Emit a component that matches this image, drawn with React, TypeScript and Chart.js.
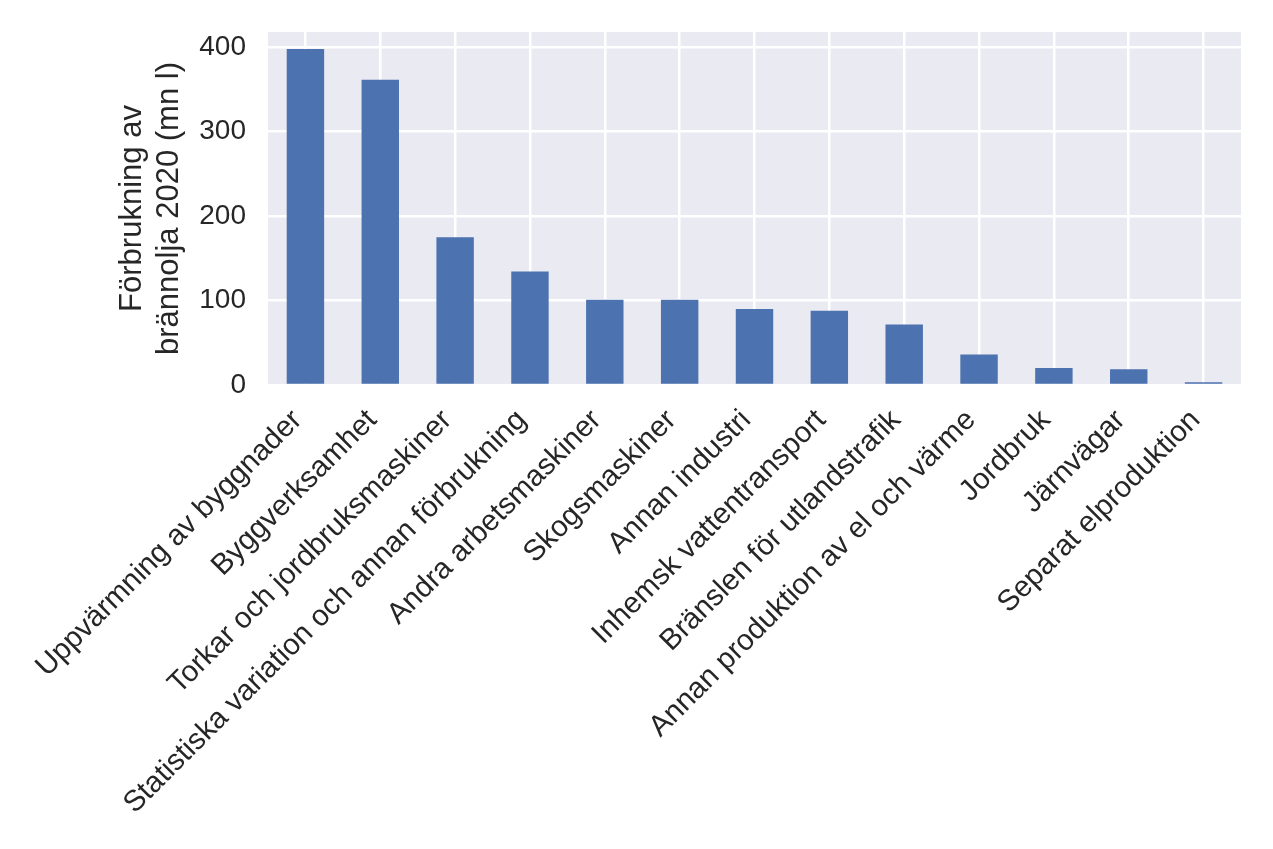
import React, { useEffect, useRef } from "react";
import { Chart, registerables } from "chart.js";

Chart.register(...registerables);

const categories = [
  "Uppvärmning av byggnader",
  "Byggverksamhet",
  "Torkar och jordbruksmaskiner",
  "Statistiska variation och annan förbrukning",
  "Andra arbetsmaskiner",
  "Skogsmaskiner",
  "Annan industri",
  "Inhemsk vattentransport",
  "Bränslen för utlandstrafik",
  "Annan produktion av el och värme",
  "Jordbruk",
  "Järnvägar",
  "Separat elproduktion",
];

const values = [398, 361.5, 175, 134.5, 101, 101, 90, 88, 71.5, 36, 20, 18.7, 3.2];

const yTitle = ["Förbrukning av", "brännolja 2020 (mn l)"];

const FONT = "'Liberation Sans', Arial, Helvetica, sans-serif";
const TEXT = "#262626";

const bgPlugin = {
  id: "bgPlugin",
  beforeDraw(chart: any) {
    const { ctx, chartArea } = chart;
    if (!chartArea) return;
    ctx.save();
    ctx.fillStyle = "#EAEAF2";
    ctx.fillRect(chartArea.left, chartArea.top, chartArea.right - chartArea.left, chartArea.bottom - chartArea.top);
    ctx.restore();
  },
};

export default function App() {
  const ref = useRef<HTMLCanvasElement>(null);
  useEffect(() => {
    document.body.style.margin = "0";
    const chart = new Chart(ref.current!, {
      type: "bar",
      data: {
        labels: categories,
        datasets: [
          {
            data: values,
            backgroundColor: "#4C72B0",
            borderWidth: 0,
            categoryPercentage: 1,
            barPercentage: 0.5,
          },
        ],
      },
      options: {
        animation: false,
        responsive: false,
        maintainAspectRatio: false,
        layout: { padding: { left: 110, top: 32, right: 32, bottom: 0 } },
        plugins: { legend: { display: false }, tooltip: { enabled: false } },
        scales: {
          x: {
            offset: true,
            grid: { color: "#ffffff", lineWidth: 2.5, drawTicks: false, offset: false },
            border: { display: false },
            ticks: {
              color: TEXT,
              font: { family: FONT, size: 29.5 },
              maxRotation: 45,
              minRotation: 45,
              autoSkip: false,
              padding: 18,
              labelOffset: -8,
            },
            afterFit: (s: any) => {
              s.height = 464;
              s.paddingLeft = 0;
              s.paddingRight = 0;
            },
          },
          y: {
            min: 0,
            max: 418,
            grid: { color: "#ffffff", lineWidth: 2.5, drawTicks: false },
            border: { display: false },
            ticks: {
              stepSize: 100,
              includeBounds: false,
              color: TEXT,
              font: { family: FONT, size: 28 },
              padding: 22,
            },
            title: {
              display: true,
              text: yTitle,
              color: TEXT,
              font: { family: FONT, size: 31 },
              padding: { top: 4, bottom: 0 },
            },
            afterFit: (s: any) => {
              s.width = 158;
              s.paddingTop = 0;
              s.paddingBottom = 0;
            },
          },
        },
      },
      plugins: [bgPlugin],
    });
    return () => chart.destroy();
  }, []);
  return (
    <div style={{ width: 1273, height: 849, background: "#fff" }}>
      <canvas ref={ref} width={1273} height={849} style={{ display: "block" }} />
    </div>
  );
}
